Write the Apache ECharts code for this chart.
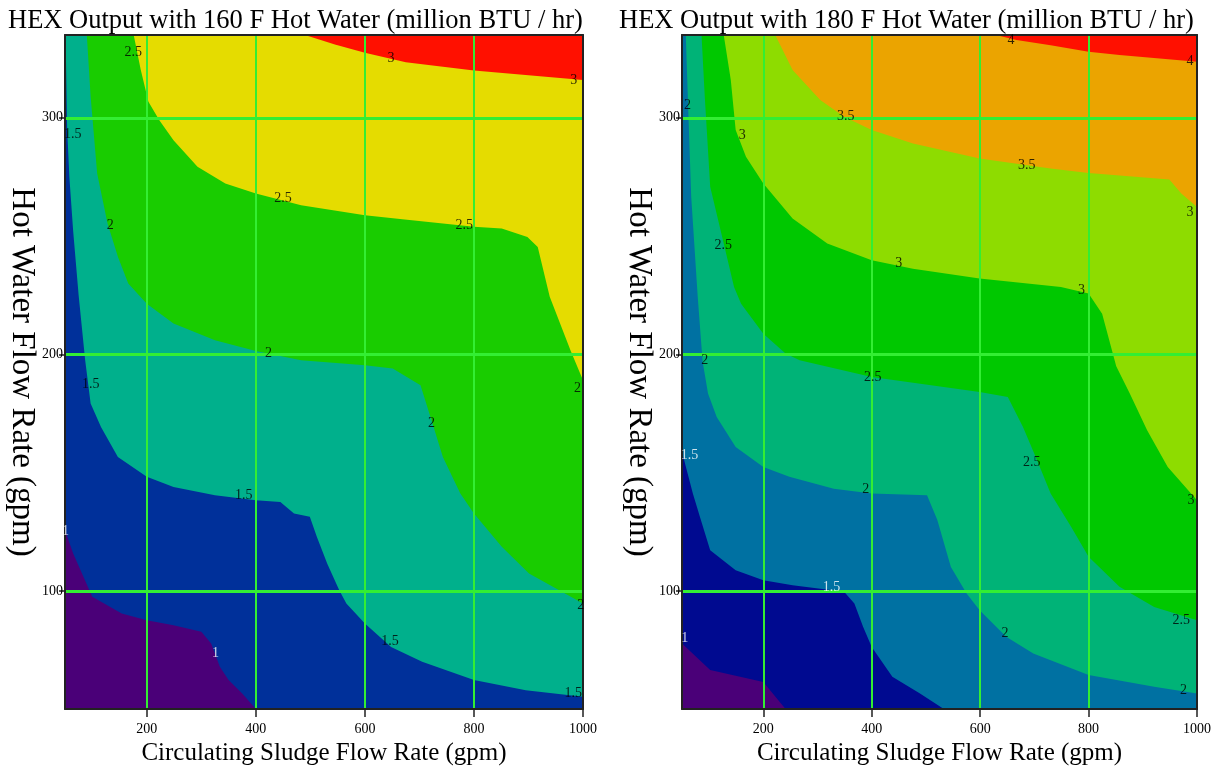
<!DOCTYPE html>
<html>
<head>
<meta charset="utf-8">
<script src="https://cdn.jsdelivr.net/npm/echarts@6/dist/echarts.min.js"></script>
<style>
html,body{margin:0;padding:0;background:#fff}
#main{width:1216px;height:771px}
</style>
</head>
<body>
<div id="main"></div>
<script>
var xRange = [50, 1000];
var yRange = [50, 335];
var xTicks = [200, 400, 600, 800, 1000];
var yTicks = [100, 200, 300];

// 160 F panel: contour lines [sludge gpm, water gpm], low level first
var c160_1 = [[50,125.6],[65,115.8],[84,105.9],[100,97.5],[154,90.4],[200,87.6],[249,85.5],[300,82.7],[318,77.7],[334,67.9],[350,62.3],[375,56.6],[400,50]];
var c160_15 = [[51,335],[54,295],[58,275],[65,252],[75,225],[87,197.5],[97,179.2],[116,169.3],[147,156.6],[200,148.2],[249,143.9],[325,140.4],[400,138.3],[445,137.6],[470,132.7],[499,131.3],[512,122.8],[531,111.5],[553,100.3],[566,94.6],[600,86.2],[648,76.3],[705,70],[800,62.3],[895,58],[1000,55.2]];
var c160_2 = [[90,335],[97,309],[109,276.4],[128,255.3],[147,241.2],[166,229.9],[200,221.4],[249,213],[325,205.9],[400,201.4],[483,197.5],[600,195.4],[651,194],[702,186.9],[724,170.7],[743,156.6],[775,141.1],[800,132.7],[851,118.6],[901,107.3],[1000,94.6]];
var c160_25 = [[176,335],[189,320.2],[203,306.8],[223,299],[249,290.5],[293,279.3],[344,272.2],[400,268],[483,263],[600,258.8],[673,257],[800,253.9],[851,253.2],[898,249.6],[917,245.4],[939,224.3],[958,213],[977,201.7],[1000,189]];
var c160_3 = [[490,335],[545,331],[600,327.5],[675,323.5],[800,320],[1000,316]];
var labels160 = [[175,327.8,'2.5'],[648,325,'3'],[983,316,'3'],[64,293,'1.5'],[133,254.6,'2'],[450,266,'2.5'],[782,254.6,'2.5'],[423,200.6,'2'],[97,187.3,'1.5'],[990,185.5,'2'],[722,170.7,'2'],[378,140.4,'1.5'],[51,125,'1'],[996,94,'2'],[646,78.5,'1.5'],[326,73.5,'1'],[982,56.6,'1.5']];

// 180 F panel
var c180_1 = [[50,77.7],[102,66.5],[200,61.5],[241,50]];
var c180_15 = [[50,158],[54,155.2],[70,141.1],[83,131.3],[102,117.2],[149,108.7],[200,104.5],[254,102.4],[349,99.6],[368,94.6],[384,84.8],[400,76.3],[438,63.7],[489,56.6],[533,50]];
var c180_2 = [[57,335],[62,300],[67,266.6],[79,224.3],[88,197],[98,183.4],[114,173.5],[149,160.8],[200,152.4],[248,148.2],[330,143.2],[400,141.1],[502,140.4],[521,129.9],[546,110.1],[575,98.9],[599,91.8],[648,80.6],[698,73.5],[800,64.4],[921,59.4],[1000,56.6]];
var c180_25 = [[86,335],[92,308.9],[102,270.8],[127,246.8],[146,228.5],[159,221.4],[200,208.7],[241,200.3],[267,197.5],[400,190.4],[599,184.1],[651,182],[679,169.3],[705,155.2],[730,141.1],[768,127],[800,114.4],[857,101.7],[921,93.2],[1000,87.6]];
var c180_3 = [[127,335],[140,316],[149,294.8],[168,283.5],[200,272.2],[254,257.4],[318,246.8],[400,239.8],[476,236.2],[599,232],[749,228.5],[800,225.7],[825,217.2],[851,195],[876,183.4],[908,167.9],[946,152.4],[1000,138.3]];
var c180_35 = [[222,335],[254,320.2],[305,307.5],[349,300.4],[400,294.8],[476,289.1],[599,282.8],[730,278.6],[800,276.7],[949,273.9],[971,268],[1000,262.3]];
var c180_4 = [[629,335],[667,332.9],[730,330.7],[800,327.9],[857,326.5],[1000,323.7]];
var labels180 = [[657,332.9,'4'],[987,323.7,'4'],[60,305.4,'2'],[352,300.7,'3.5'],[161,292.7,'3'],[686,280,'3.5'],[987,260.2,'3'],[126,246.1,'2.5'],[450,238.4,'3'],[787,227.1,'3'],[92,197.5,'2'],[402,190.1,'2.5'],[695,154.5,'2.5'],[64,157.3,'1.5'],[389,142.8,'2'],[989,138.3,'3'],[326,101.3,'1.5'],[971,87.6,'2.5'],[55,79.9,'1'],[646,82,'2'],[975,58,'2']];

var colors160 = ['#4a0078','#00309a','#00b08c','#19cc00','#e5dc00','#ff1000'];
var colors180 = ['#4a0078','#000a90','#0071a2','#00b377','#00c800','#8edc00','#eba400','#ff1000'];

var serif = 'Liberation Serif';
var gridGreen = '#33ee33';

// close a contour line round the upper right side of the plot
function bandPolygon(line)
{
	var pts = line.slice();
	var s = pts[0], e = pts[pts.length-1];
	if(e[1] <= yRange[0] && e[0] < xRange[1]) pts.push([xRange[1], yRange[0]]);
	pts.push([xRange[1], yRange[1]]);
	if(s[0] <= xRange[0] && s[1] < yRange[1]) pts.push([xRange[0], yRange[1]]);
	return pts;
}

function contourSeries(idx, lines, colors)
{
	var full = [[xRange[0],yRange[0]],[xRange[1],yRange[0]],[xRange[1],yRange[1]],[xRange[0],yRange[1]]];
	return {
		type: 'custom',
		xAxisIndex: idx,
		yAxisIndex: idx,
		silent: true,
		z: 2,
		data: colors.map(function(c, i){ return [i]; }),
		renderItem: function(params, api) {
			var i = params.dataIndex;
			var poly = i == 0 ? full : bandPolygon(lines[i-1]);
			return {
				type: 'polygon',
				shape: { points: poly.map(function(p){ return api.coord(p); }) },
				style: { fill: colors[i] }
			};
		}
	};
}

function labelSeries(idx, labels, whiteUpTo)
{
	return {
		type: 'scatter',
		xAxisIndex: idx,
		yAxisIndex: idx,
		silent: true,
		z: 10,
		symbolSize: 1,
		itemStyle: { color: 'rgba(0,0,0,0)' },
		label: {
			show: true,
			position: 'inside',
			fontFamily: serif,
			fontSize: 14,
			formatter: function(p){ return p.value[2]; }
		},
		data: labels.map(function(l){
			return { value: l, label: { color: parseFloat(l[2]) <= whiteUpTo ? '#fff' : '#000' } };
		})
	};
}

function plainNum(v){ return String(v); }

function bottomAxis(idx)
{
	return {
		type: 'value', gridIndex: idx, position: 'bottom', min: xRange[0], max: xRange[1], z: 5,
		name: 'Circulating Sludge Flow Rate (gpm)', nameLocation: 'middle', nameGap: 26,
		nameTextStyle: { fontFamily: serif, fontSize: 25, color: '#000' },
		axisLine: { show: true, lineStyle: { color: '#222', width: 2 } },
		axisTick: { show: true, length: 8, customValues: xTicks, lineStyle: { color: '#222', width: 1.5 } },
		axisLabel: { show: true, customValues: xTicks, formatter: plainNum, margin: 13, fontFamily: serif, fontSize: 14, color: '#000' },
		splitLine: { show: true, lineStyle: { color: gridGreen, width: 2 } }
	};
}
function topAxis(idx)
{
	return {
		type: 'value', gridIndex: idx, position: 'top', min: xRange[0], max: xRange[1], z: 5,
		axisLine: { show: true, lineStyle: { color: '#222', width: 2 } },
		axisTick: { show: false }, axisLabel: { show: false }, splitLine: { show: false }
	};
}
function leftAxis(idx)
{
	return {
		type: 'value', gridIndex: idx, position: 'left', min: yRange[0], max: yRange[1], z: 5,
		name: 'Hot Water Flow Rate (gpm)', nameLocation: 'middle', nameGap: 19, nameRotate: -90,
		nameTextStyle: { fontFamily: serif, fontSize: 33, color: '#000' },
		axisLine: { show: true, lineStyle: { color: '#222', width: 2 } },
		axisTick: { show: true, length: 6, customValues: yTicks, lineStyle: { color: '#222', width: 1.5 } },
		axisLabel: { show: true, customValues: yTicks, formatter: plainNum, margin: 2, fontFamily: serif, fontSize: 14, color: '#000' },
		splitLine: { show: true, lineStyle: { color: gridGreen, width: 3 } }
	};
}
function rightAxis(idx)
{
	return {
		type: 'value', gridIndex: idx, position: 'right', min: yRange[0], max: yRange[1], z: 5,
		axisLine: { show: true, lineStyle: { color: '#222', width: 2 } },
		axisTick: { show: false }, axisLabel: { show: false }, splitLine: { show: false }
	};
}

var myChart = echarts.init(document.getElementById('main'));
var option = {
	animation: false,
	backgroundColor: '#fff',
	title: [
		{ text: 'HEX Output with 160 F Hot Water (million BTU / hr)', left: 3, top: 3,
		  textStyle: { fontFamily: serif, fontSize: 26.5, fontWeight: 'normal', color: '#000' } },
		{ text: 'HEX Output with 180 F Hot Water (million BTU / hr)', left: 614, top: 3,
		  textStyle: { fontFamily: serif, fontSize: 26.5, fontWeight: 'normal', color: '#000' } }
	],
	grid: [
		{ left: 65, top: 35, width: 518, height: 675 },
		{ left: 682, top: 35, width: 515, height: 675 }
	],
	xAxis: [bottomAxis(0), bottomAxis(1), topAxis(0), topAxis(1)],
	yAxis: [leftAxis(0), leftAxis(1), rightAxis(0), rightAxis(1)],
	series: [
		contourSeries(0, [c160_1, c160_15, c160_2, c160_25, c160_3], colors160),
		contourSeries(1, [c180_1, c180_15, c180_2, c180_25, c180_3, c180_35, c180_4], colors180),
		labelSeries(0, labels160, 1),
		labelSeries(1, labels180, 1.5)
	]
};
myChart.setOption(option);
</script>
</body>
</html>
